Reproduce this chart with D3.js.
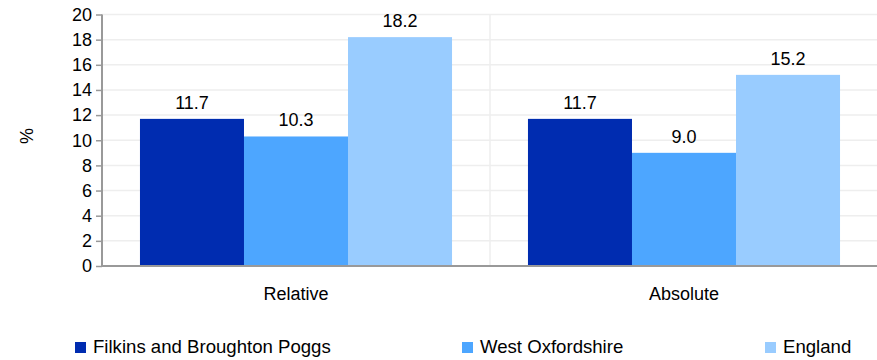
<!DOCTYPE html>
<html>
<head>
<meta charset="utf-8">
<script src="https://cdn.jsdelivr.net/npm/d3@7"></script>
<style>
  body { margin: 0; background: #fff; }
  svg { font-family: "Liberation Sans", Arial, sans-serif; }
</style>
</head>
<body>
<svg id="chart" width="877" height="360"></svg>
<script>
// data
const categories = ['Relative', 'Absolute'];
const seriesNames = ['Filkins and Broughton Poggs', 'West Oxfordshire', 'England'];
const filkins = [11.7, 11.7];
const westOxon = [10.3, 9.0];
const england = [18.2, 15.2];
const yTicks = [0, 2, 4, 6, 8, 10, 12, 14, 16, 18, 20];

const colors = ['#002cb0', '#4da6ff', '#99ccff'];
const seriesValues = [filkins, westOxon, england];

const svg = d3.select('#chart');
const margin = { left: 102, right: -1, top: 14.5, bottom: 94 };
const width = 877 - margin.left - margin.right,
    height = 360 - margin.top - margin.bottom;

const g = svg.append('g')
    .attr('transform', `translate(${margin.left},${margin.top})`);

const x0 = d3.scaleBand().domain(categories).range([0, width]);
const x1 = d3.scaleBand().domain(seriesNames)
    .range([0, x0.bandwidth()]).paddingOuter(0.365);
const y = d3.scaleLinear().domain([0, 20]).range([height, 0]);

// horizontal grid
g.selectAll('.hgrid')
    .data(yTicks.slice(1))
    .enter()
    .append('line')
    .attr('x1', 0).attr('x2', width)
    .attr('y1', d => y(d)).attr('y2', d => y(d))
    .attr('stroke', '#eeeeee').attr('stroke-width', 1.5);

// vertical separator between categories
g.append('line')
    .attr('x1', x0.bandwidth()).attr('x2', x0.bandwidth())
    .attr('y1', 0).attr('y2', height)
    .attr('stroke', '#eeeeee').attr('stroke-width', 1.5);

// bars
const rows = [];
categories.forEach((c, ci) => {
    seriesNames.forEach((s, si) => {
        rows.push({ cat: c, series: s, value: seriesValues[si][ci], color: colors[si] });
    });
});

g.selectAll('.bar')
    .data(rows)
    .enter()
    .append('rect')
    .attr('x', d => x0(d.cat) + x1(d.series))
    .attr('y', d => y(d.value))
    .attr('width', x1.bandwidth())
    .attr('height', d => height - y(d.value))
    .attr('fill', d => d.color);

g.selectAll('.val')
    .data(rows)
    .enter()
    .append('text')
    .attr('x', d => x0(d.cat) + x1(d.series) + x1.bandwidth() / 2)
    .attr('y', d => y(d.value) - 10)
    .attr('text-anchor', 'middle')
    .attr('font-size', 18)
    .attr('fill', '#000')
    .text(d => d.value.toFixed(1));

// y axis
const yAxis = g.append('g')
    .call(d3.axisLeft(y).tickValues(yTicks).tickSize(6).tickPadding(4));
yAxis.select('.domain').attr('stroke', '#999').attr('stroke-width', 2)
    .attr('d', `M0,${height}V0`);
yAxis.selectAll('.tick line').attr('stroke', '#999').attr('stroke-width', 1.5);
yAxis.selectAll('.tick text').attr('font-size', 18).attr('fill', '#000')
    .attr('font-family', '"Liberation Sans", Arial, sans-serif');

// x axis line
g.append('line')
    .attr('x1', 0).attr('x2', width)
    .attr('y1', height).attr('y2', height)
    .attr('stroke', '#999').attr('stroke-width', 2);

g.selectAll('.cat')
    .data(categories)
    .enter()
    .append('text')
    .attr('x', d => x0(d) + x0.bandwidth() / 2)
    .attr('y', 300 - margin.top)
    .attr('text-anchor', 'middle')
    .attr('font-size', 18)
    .text(d => d);

// y label
svg.append('text')
    .attr('transform', 'translate(33,136) rotate(-90)')
    .attr('text-anchor', 'middle')
    .attr('font-size', 18)
    .text('%');

// legend
const legendX = [75, 462, 765];
const legend = svg.selectAll('.legend')
    .data(seriesNames)
    .enter()
    .append('g')
    .attr('transform', (d, i) => `translate(${legendX[i]},342)`);
legend.append('rect')
    .attr('width', 11).attr('height', 11)
    .attr('fill', (d, i) => colors[i]);
legend.append('text')
    .attr('x', 18).attr('y', 11)
    .attr('font-size', 18.6)
    .text(d => d);
</script>
</body>
</html>
